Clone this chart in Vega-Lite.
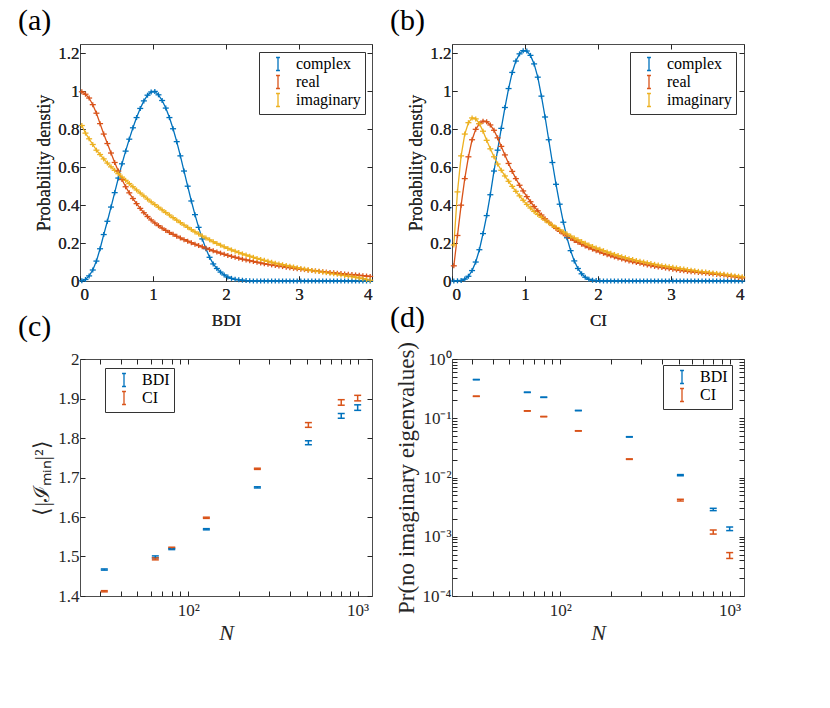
{
"$schema": "https://vega.github.io/schema/vega-lite/v6.json",
"background": "white",
"padding": {"left": 17, "top": 5, "right": 5, "bottom": 5},
"config": {
  "font": "Liberation Serif",
  "view": {"stroke": "#4d4d4d", "strokeWidth": 1},
  "style": {"guide-label": {"font": "Liberation Serif"}, "guide-title": {"font": "Liberation Serif"}, "group-title": {"font": "Liberation Serif"}},
  "axis": {"grid": false, "domain": false, "tickColor": "#262626", "tickSize": -5, "tickWidth": 1, "labelColor": "#262626", "labelFont": "Liberation Serif", "labelFontSize": 17, "titleFont": "Liberation Serif", "titleFontSize": 17, "titleFontWeight": "normal", "titleColor": "#262626", "labelPadding": 6, "titlePadding": 4},
  "legend": {"title": null, "orient": "none", "strokeColor": "#333333", "fillColor": "white", "padding": 4, "labelFont": "Liberation Serif", "labelFontSize": 16, "labelColor": "black", "symbolType": "M-0.3,-1H0.3M0,-1V1M-0.3,1H0.3", "symbolSize": 169, "symbolStrokeWidth": 1.3, "symbolFillColor": "transparent", "symbolOffset": 7, "rowPadding": -4, "labelOffset": 10, "cornerRadius": 0},
  "title": {"font": "Liberation Serif", "fontSize": 30, "fontWeight": "normal", "color": "black", "anchor": "start", "frame": "group", "dx": -62, "offset": 8}
},
"datasets": {
"a": [
{"x":0.025,"complex":0.001,"real":0.998,"imaginary":0.82},
{"x":0.075,"complex":0.008,"real":0.985,"imaginary":0.78},
{"x":0.125,"complex":0.027,"real":0.965,"imaginary":0.75},
{"x":0.175,"complex":0.058,"real":0.93,"imaginary":0.72},
{"x":0.225,"complex":0.105,"real":0.885,"imaginary":0.69},
{"x":0.275,"complex":0.17,"real":0.83,"imaginary":0.667},
{"x":0.325,"complex":0.245,"real":0.775,"imaginary":0.644},
{"x":0.375,"complex":0.315,"real":0.725,"imaginary":0.622},
{"x":0.425,"complex":0.39,"real":0.675,"imaginary":0.602},
{"x":0.475,"complex":0.466,"real":0.625,"imaginary":0.584},
{"x":0.525,"complex":0.543,"real":0.58,"imaginary":0.566},
{"x":0.575,"complex":0.618,"real":0.535,"imaginary":0.548},
{"x":0.625,"complex":0.685,"real":0.497,"imaginary":0.531},
{"x":0.675,"complex":0.748,"real":0.465,"imaginary":0.514},
{"x":0.725,"complex":0.808,"real":0.435,"imaginary":0.497},
{"x":0.775,"complex":0.862,"real":0.408,"imaginary":0.48},
{"x":0.825,"complex":0.91,"real":0.383,"imaginary":0.464},
{"x":0.875,"complex":0.95,"real":0.36,"imaginary":0.448},
{"x":0.925,"complex":0.98,"real":0.34,"imaginary":0.432},
{"x":0.975,"complex":0.997,"real":0.322,"imaginary":0.417},
{"x":1.025,"complex":1.0,"real":0.306,"imaginary":0.403},
{"x":1.075,"complex":0.982,"real":0.292,"imaginary":0.389},
{"x":1.125,"complex":0.952,"real":0.279,"imaginary":0.375},
{"x":1.175,"complex":0.912,"real":0.267,"imaginary":0.361},
{"x":1.225,"complex":0.862,"real":0.256,"imaginary":0.348},
{"x":1.275,"complex":0.803,"real":0.246,"imaginary":0.334},
{"x":1.325,"complex":0.735,"real":0.236,"imaginary":0.321},
{"x":1.375,"complex":0.66,"real":0.227,"imaginary":0.308},
{"x":1.425,"complex":0.58,"real":0.218,"imaginary":0.295},
{"x":1.475,"complex":0.5,"real":0.21,"imaginary":0.283},
{"x":1.525,"complex":0.422,"real":0.202,"imaginary":0.271},
{"x":1.575,"complex":0.35,"real":0.194,"imaginary":0.259},
{"x":1.625,"complex":0.283,"real":0.187,"imaginary":0.248},
{"x":1.675,"complex":0.222,"real":0.18,"imaginary":0.237},
{"x":1.725,"complex":0.17,"real":0.173,"imaginary":0.227},
{"x":1.775,"complex":0.125,"real":0.166,"imaginary":0.217},
{"x":1.825,"complex":0.09,"real":0.159,"imaginary":0.207},
{"x":1.875,"complex":0.066,"real":0.153,"imaginary":0.198},
{"x":1.925,"complex":0.047,"real":0.147,"imaginary":0.189},
{"x":1.975,"complex":0.032,"real":0.141,"imaginary":0.18},
{"x":2.025,"complex":0.021,"real":0.135,"imaginary":0.172},
{"x":2.075,"complex":0.014,"real":0.13,"imaginary":0.164},
{"x":2.125,"complex":0.009,"real":0.125,"imaginary":0.157},
{"x":2.175,"complex":0.006,"real":0.12,"imaginary":0.15},
{"x":2.225,"complex":0.004,"real":0.115,"imaginary":0.143},
{"x":2.275,"complex":0.002,"real":0.111,"imaginary":0.137},
{"x":2.325,"complex":0.001,"real":0.107,"imaginary":0.131},
{"x":2.375,"complex":0,"real":0.103,"imaginary":0.125},
{"x":2.425,"complex":0,"real":0.099,"imaginary":0.119},
{"x":2.475,"complex":0,"real":0.095,"imaginary":0.114},
{"x":2.525,"complex":0,"real":0.091,"imaginary":0.109},
{"x":2.575,"complex":0,"real":0.088,"imaginary":0.104},
{"x":2.625,"complex":0,"real":0.085,"imaginary":0.099},
{"x":2.675,"complex":0,"real":0.082,"imaginary":0.094},
{"x":2.725,"complex":0,"real":0.079,"imaginary":0.09},
{"x":2.775,"complex":0,"real":0.076,"imaginary":0.086},
{"x":2.825,"complex":0,"real":0.073,"imaginary":0.082},
{"x":2.875,"complex":0,"real":0.07,"imaginary":0.078},
{"x":2.925,"complex":0,"real":0.067,"imaginary":0.074},
{"x":2.975,"complex":0,"real":0.064,"imaginary":0.07},
{"x":3.025,"complex":0,"real":0.062,"imaginary":0.066},
{"x":3.075,"complex":0,"real":0.06,"imaginary":0.063},
{"x":3.125,"complex":0,"real":0.057,"imaginary":0.059},
{"x":3.175,"complex":0,"real":0.055,"imaginary":0.056},
{"x":3.225,"complex":0,"real":0.053,"imaginary":0.053},
{"x":3.275,"complex":0,"real":0.051,"imaginary":0.05},
{"x":3.325,"complex":0,"real":0.049,"imaginary":0.047},
{"x":3.375,"complex":0,"real":0.047,"imaginary":0.044},
{"x":3.425,"complex":0,"real":0.045,"imaginary":0.041},
{"x":3.475,"complex":0,"real":0.043,"imaginary":0.038},
{"x":3.525,"complex":0,"real":0.041,"imaginary":0.035},
{"x":3.575,"complex":0,"real":0.039,"imaginary":0.032},
{"x":3.625,"complex":0,"real":0.037,"imaginary":0.029},
{"x":3.675,"complex":0,"real":0.035,"imaginary":0.026},
{"x":3.725,"complex":0,"real":0.034,"imaginary":0.023},
{"x":3.775,"complex":0,"real":0.032,"imaginary":0.02},
{"x":3.825,"complex":0,"real":0.03,"imaginary":0.016},
{"x":3.875,"complex":0,"real":0.028,"imaginary":0.012},
{"x":3.925,"complex":0,"real":0.026,"imaginary":0.008},
{"x":3.975,"complex":0,"real":0.024,"imaginary":0.004}
],
"b": [
{"x":0.025,"complex":0,"real":0.08,"imaginary":0.19},
{"x":0.075,"complex":0.001,"real":0.24,"imaginary":0.47},
{"x":0.125,"complex":0.003,"real":0.4,"imaginary":0.66},
{"x":0.175,"complex":0.01,"real":0.54,"imaginary":0.775},
{"x":0.225,"complex":0.025,"real":0.655,"imaginary":0.835},
{"x":0.275,"complex":0.055,"real":0.745,"imaginary":0.86},
{"x":0.325,"complex":0.1,"real":0.8,"imaginary":0.855},
{"x":0.375,"complex":0.165,"real":0.83,"imaginary":0.83},
{"x":0.425,"complex":0.25,"real":0.843,"imaginary":0.79},
{"x":0.475,"complex":0.345,"real":0.84,"imaginary":0.742},
{"x":0.525,"complex":0.455,"real":0.823,"imaginary":0.697},
{"x":0.575,"complex":0.58,"real":0.795,"imaginary":0.655},
{"x":0.625,"complex":0.69,"real":0.755,"imaginary":0.617},
{"x":0.675,"complex":0.805,"real":0.71,"imaginary":0.584},
{"x":0.725,"complex":0.915,"real":0.665,"imaginary":0.554},
{"x":0.775,"complex":1.015,"real":0.62,"imaginary":0.526},
{"x":0.825,"complex":1.1,"real":0.578,"imaginary":0.499},
{"x":0.875,"complex":1.16,"real":0.54,"imaginary":0.473},
{"x":0.925,"complex":1.198,"real":0.505,"imaginary":0.449},
{"x":0.975,"complex":1.215,"real":0.475,"imaginary":0.426},
{"x":1.025,"complex":1.213,"real":0.445,"imaginary":0.404},
{"x":1.075,"complex":1.19,"real":0.418,"imaginary":0.385},
{"x":1.125,"complex":1.145,"real":0.393,"imaginary":0.367},
{"x":1.175,"complex":1.075,"real":0.37,"imaginary":0.351},
{"x":1.225,"complex":0.975,"real":0.348,"imaginary":0.336},
{"x":1.275,"complex":0.865,"real":0.328,"imaginary":0.321},
{"x":1.325,"complex":0.745,"real":0.31,"imaginary":0.307},
{"x":1.375,"complex":0.625,"real":0.293,"imaginary":0.294},
{"x":1.425,"complex":0.51,"real":0.277,"imaginary":0.282},
{"x":1.475,"complex":0.405,"real":0.262,"imaginary":0.27},
{"x":1.525,"complex":0.31,"real":0.249,"imaginary":0.259},
{"x":1.575,"complex":0.228,"real":0.237,"imaginary":0.248},
{"x":1.625,"complex":0.16,"real":0.225,"imaginary":0.237},
{"x":1.675,"complex":0.106,"real":0.214,"imaginary":0.227},
{"x":1.725,"complex":0.066,"real":0.204,"imaginary":0.217},
{"x":1.775,"complex":0.038,"real":0.194,"imaginary":0.208},
{"x":1.825,"complex":0.02,"real":0.185,"imaginary":0.199},
{"x":1.875,"complex":0.009,"real":0.176,"imaginary":0.19},
{"x":1.925,"complex":0.004,"real":0.168,"imaginary":0.182},
{"x":1.975,"complex":0.002,"real":0.16,"imaginary":0.174},
{"x":2.025,"complex":0.001,"real":0.153,"imaginary":0.167},
{"x":2.075,"complex":0,"real":0.146,"imaginary":0.16},
{"x":2.125,"complex":0,"real":0.139,"imaginary":0.153},
{"x":2.175,"complex":0,"real":0.133,"imaginary":0.146},
{"x":2.225,"complex":0,"real":0.127,"imaginary":0.14},
{"x":2.275,"complex":0,"real":0.121,"imaginary":0.134},
{"x":2.325,"complex":0,"real":0.116,"imaginary":0.128},
{"x":2.375,"complex":0,"real":0.111,"imaginary":0.123},
{"x":2.425,"complex":0,"real":0.106,"imaginary":0.118},
{"x":2.475,"complex":0,"real":0.101,"imaginary":0.113},
{"x":2.525,"complex":0,"real":0.097,"imaginary":0.108},
{"x":2.575,"complex":0,"real":0.093,"imaginary":0.104},
{"x":2.625,"complex":0,"real":0.089,"imaginary":0.1},
{"x":2.675,"complex":0,"real":0.085,"imaginary":0.096},
{"x":2.725,"complex":0,"real":0.081,"imaginary":0.092},
{"x":2.775,"complex":0,"real":0.077,"imaginary":0.088},
{"x":2.825,"complex":0,"real":0.074,"imaginary":0.084},
{"x":2.875,"complex":0,"real":0.071,"imaginary":0.081},
{"x":2.925,"complex":0,"real":0.068,"imaginary":0.078},
{"x":2.975,"complex":0,"real":0.065,"imaginary":0.075},
{"x":3.025,"complex":0,"real":0.062,"imaginary":0.072},
{"x":3.075,"complex":0,"real":0.059,"imaginary":0.069},
{"x":3.125,"complex":0,"real":0.056,"imaginary":0.066},
{"x":3.175,"complex":0,"real":0.054,"imaginary":0.063},
{"x":3.225,"complex":0,"real":0.051,"imaginary":0.06},
{"x":3.275,"complex":0,"real":0.049,"imaginary":0.057},
{"x":3.325,"complex":0,"real":0.047,"imaginary":0.054},
{"x":3.375,"complex":0,"real":0.045,"imaginary":0.051},
{"x":3.425,"complex":0,"real":0.043,"imaginary":0.049},
{"x":3.475,"complex":0,"real":0.041,"imaginary":0.047},
{"x":3.525,"complex":0,"real":0.039,"imaginary":0.045},
{"x":3.575,"complex":0,"real":0.037,"imaginary":0.042},
{"x":3.625,"complex":0,"real":0.035,"imaginary":0.04},
{"x":3.675,"complex":0,"real":0.033,"imaginary":0.037},
{"x":3.725,"complex":0,"real":0.031,"imaginary":0.035},
{"x":3.775,"complex":0,"real":0.027,"imaginary":0.032},
{"x":3.825,"complex":0,"real":0.025,"imaginary":0.03},
{"x":3.875,"complex":0,"real":0.022,"imaginary":0.027},
{"x":3.925,"complex":0,"real":0.019,"imaginary":0.025},
{"x":3.975,"complex":0,"real":0.016,"imaginary":0.022}
],
"c": [
{"N":32,"s":"BDI","v":1.467,"lo":1.4655,"hi":1.4685},
{"N":64,"s":"BDI","v":1.499,"lo":1.4965,"hi":1.5015},
{"N":80,"s":"BDI","v":1.519,"lo":1.5175,"hi":1.5205},
{"N":128,"s":"BDI","v":1.569,"lo":1.5675,"hi":1.5705},
{"N":256,"s":"BDI","v":1.675,"lo":1.6735,"hi":1.6765},
{"N":512,"s":"BDI","v":1.788,"lo":1.783,"hi":1.793},
{"N":800,"s":"BDI","v":1.856,"lo":1.85,"hi":1.862},
{"N":1000,"s":"BDI","v":1.877,"lo":1.87,"hi":1.884},
{"N":32,"s":"CI","v":1.412,"lo":1.4105,"hi":1.4135},
{"N":64,"s":"CI","v":1.494,"lo":1.4915,"hi":1.4965},
{"N":80,"s":"CI","v":1.522,"lo":1.5205,"hi":1.5235},
{"N":128,"s":"CI","v":1.598,"lo":1.5965,"hi":1.5995},
{"N":256,"s":"CI","v":1.722,"lo":1.7205,"hi":1.7235},
{"N":512,"s":"CI","v":1.833,"lo":1.827,"hi":1.839},
{"N":800,"s":"CI","v":1.89,"lo":1.883,"hi":1.897},
{"N":1000,"s":"CI","v":1.901,"lo":1.894,"hi":1.908}
],
"d": [
{"N":32,"s":"BDI","v":0.449,"lo":0.446,"hi":0.452},
{"N":64,"s":"BDI","v":0.274,"lo":0.272,"hi":0.276},
{"N":80,"s":"BDI","v":0.226,"lo":0.2245,"hi":0.2275},
{"N":128,"s":"BDI","v":0.135,"lo":0.134,"hi":0.136},
{"N":256,"s":"BDI","v":0.0485,"lo":0.0481,"hi":0.0489},
{"N":512,"s":"BDI","v":0.01094,"lo":0.0107,"hi":0.0112},
{"N":800,"s":"BDI","v":0.00289,"lo":0.00276,"hi":0.00302},
{"N":1000,"s":"BDI","v":0.001364,"lo":0.00127,"hi":0.00146},
{"N":32,"s":"CI","v":0.235,"lo":0.2335,"hi":0.2365},
{"N":64,"s":"CI","v":0.133,"lo":0.132,"hi":0.134},
{"N":80,"s":"CI","v":0.1067,"lo":0.106,"hi":0.1074},
{"N":128,"s":"CI","v":0.0612,"lo":0.0608,"hi":0.0616},
{"N":256,"s":"CI","v":0.0204,"lo":0.0202,"hi":0.0206},
{"N":512,"s":"CI","v":0.00415,"lo":0.00401,"hi":0.00429},
{"N":800,"s":"CI","v":0.0012,"lo":0.00111,"hi":0.0013},
{"N":1000,"s":"CI","v":0.000484,"lo":0.00043,"hi":0.00054}
]
},
"columns": 2,
"spacing": {"row": -27, "column": 15},
"resolve": {"scale": {"color": "independent"}, "legend": {"color": "independent"}},
"concat": [
{
  "width": 292, "height": 237,
  "title": {"text": "(a)", "font": "Liberation Serif"},
  "data": {"name": "a"},
  "transform": [{"fold": ["complex", "real", "imaginary"], "as": ["series", "y"]}],
  "encoding": {
    "x": {"field": "x", "type": "quantitative", "scale": {"domain": [0, 4], "nice": false}, "axis": {"orient": "bottom", "values": [0,1,2,3,4], "format": "d", "title": "BDI", "labelFont": "Liberation Serif", "titleFont": "Liberation Serif", "labelPadding": 10, "titlePadding": 10}},
    "y": {"field": "y", "type": "quantitative", "scale": {"domain": [0, 1.25], "nice": false, "zero": false}, "axis": {"orient": "left", "values": [0,0.2,0.4,0.6,0.8,1,1.2], "format": "~g", "title": "Probability denstiy", "titleFontSize": 18, "labelFont": "Liberation Serif", "titleFont": "Liberation Serif"}},
    "color": {"field": "series", "type": "nominal", "scale": {"domain": ["complex", "real", "imaginary"], "range": ["#0072BD", "#D95319", "#EDB120"]}, "legend": {"legendX": 179, "legendY": 8}}
  },
  "layer": [
    {"mark": {"type": "line", "strokeWidth": 1.3, "clip": true}},
    {"mark": {"type": "tick", "orient": "horizontal", "size": 6, "thickness": 1.3, "opacity": 1}},
    {"mark": {"type": "tick", "orient": "vertical", "size": 5, "thickness": 1.3, "opacity": 1},
     "encoding": {
       "x": {"field": "x", "type": "quantitative", "axis": {"orient": "top", "values": [0,1,2,3,4], "labels": false, "title": null}},
       "y": {"field": "y", "type": "quantitative", "axis": {"orient": "right", "values": [0,0.2,0.4,0.6,0.8,1,1.2], "labels": false, "title": null}}
     }}
  ],
  "resolve": {"axis": {"x": "independent", "y": "independent"}}
},
{
  "width": 292, "height": 237,
  "title": {"text": "(b)", "font": "Liberation Serif"},
  "data": {"name": "b"},
  "transform": [{"fold": ["complex", "real", "imaginary"], "as": ["series", "y"]}],
  "encoding": {
    "x": {"field": "x", "type": "quantitative", "scale": {"domain": [0, 4], "nice": false}, "axis": {"orient": "bottom", "values": [0,1,2,3,4], "format": "d", "title": "CI", "labelFont": "Liberation Serif", "titleFont": "Liberation Serif", "labelPadding": 10, "titlePadding": 10}},
    "y": {"field": "y", "type": "quantitative", "scale": {"domain": [0, 1.25], "nice": false, "zero": false}, "axis": {"orient": "left", "values": [0,0.2,0.4,0.6,0.8,1,1.2], "format": "~g", "title": "Probability denstiy", "titleFontSize": 18, "labelFont": "Liberation Serif", "titleFont": "Liberation Serif"}},
    "color": {"field": "series", "type": "nominal", "scale": {"domain": ["complex", "real", "imaginary"], "range": ["#0072BD", "#D95319", "#EDB120"]}, "legend": {"legendX": 178, "legendY": 8}}
  },
  "layer": [
    {"mark": {"type": "line", "strokeWidth": 1.3, "clip": true}},
    {"mark": {"type": "tick", "orient": "horizontal", "size": 6, "thickness": 1.3, "opacity": 1}},
    {"mark": {"type": "tick", "orient": "vertical", "size": 5, "thickness": 1.3, "opacity": 1},
     "encoding": {
       "x": {"field": "x", "type": "quantitative", "axis": {"orient": "top", "values": [0,1,2,3,4], "labels": false, "title": null}},
       "y": {"field": "y", "type": "quantitative", "axis": {"orient": "right", "values": [0,0.2,0.4,0.6,0.8,1,1.2], "labels": false, "title": null}}
     }}
  ],
  "resolve": {"axis": {"x": "independent", "y": "independent"}}
},
{
  "width": 292, "height": 237,
  "title": {"text": "(c)", "font": "Liberation Serif"},
  "data": {"name": "c"},
  "encoding": {
    "x": {"field": "N", "type": "quantitative", "scale": {"type": "log", "domain": [23, 1215], "nice": false}, "axis": {"orient": "bottom", "values": [30,40,50,60,70,80,90,100,200,300,400,500,600,700,800,900,1000], "labelExpr": "datum.value == 100 ? '10²' : datum.value == 1000 ? '10³' : ''", "title": "N", "titleFontStyle": "italic", "titleFontSize": 22, "labelFont": "Liberation Serif", "titleFont": "Liberation Serif", "labelPadding": 11}},
    "color": {"field": "s", "type": "nominal", "scale": {"domain": ["BDI", "CI"], "range": ["#0072BD", "#D95319"]}, "legend": {"legendX": 25, "legendY": 9}}
  },
  "layer": [
    {"mark": {"type": "errorbar", "ticks": {"size": 7, "thickness": 1.5, "opacity": 1}, "thickness": 1.5},
     "encoding": {
       "y": {"field": "lo", "type": "quantitative", "scale": {"domain": [1.4, 2], "nice": false, "zero": false}, "axis": {"orient": "left", "values": [1.4,1.5,1.6,1.7,1.8,1.9,2], "format": "~g", "title": "⟨|ℐₘᵢₙ|²⟩", "titleFontSize": 22, "labelFont": "Liberation Serif", "titleFont": "Liberation Serif"}},
       "y2": {"field": "hi"}
     }},
    {"mark": {"type": "point", "opacity": 0, "size": 1},
     "encoding": {
       "x": {"field": "N", "type": "quantitative", "axis": {"orient": "top", "values": [30,40,50,60,70,80,90,100,200,300,400,500,600,700,800,900,1000], "labels": false, "title": null}},
       "y": {"field": "v", "type": "quantitative", "axis": {"orient": "right", "values": [1.4,1.5,1.6,1.7,1.8,1.9,2], "labels": false, "title": null}}
     }}
  ],
  "resolve": {"axis": {"x": "independent", "y": "independent"}}
},
{
  "width": 292, "height": 237,
  "title": {"text": "(d)", "font": "Liberation Serif"},
  "data": {"name": "d"},
  "encoding": {
    "x": {"field": "N", "type": "quantitative", "scale": {"type": "log", "domain": [23, 1215], "nice": false}, "axis": {"orient": "bottom", "values": [30,40,50,60,70,80,90,100,200,300,400,500,600,700,800,900,1000], "labelExpr": "datum.value == 100 ? '10²' : datum.value == 1000 ? '10³' : ''", "title": "N", "titleFontStyle": "italic", "titleFontSize": 22, "labelFont": "Liberation Serif", "titleFont": "Liberation Serif", "labelPadding": 11}},
    "color": {"field": "s", "type": "nominal", "scale": {"domain": ["BDI", "CI"], "range": ["#0072BD", "#D95319"]}, "legend": {"legendX": 211, "legendY": 6}}
  },
  "layer": [
    {"mark": {"type": "errorbar", "ticks": {"size": 7, "thickness": 1.5, "opacity": 1}, "thickness": 1.5},
     "encoding": {
       "y": {"field": "lo", "type": "quantitative", "scale": {"type": "log", "domain": [0.0001, 1], "nice": false}, "axis": {"orient": "left", "values": [0.0001,0.0002,0.0003,0.0004,0.0005,0.0006,0.0007,0.0008,0.0009,0.001,0.002,0.003,0.004,0.005,0.006,0.007,0.008,0.009,0.01,0.02,0.03,0.04,0.05,0.06,0.07,0.08,0.09,0.1,0.2,0.3,0.4,0.5,0.6,0.7,0.8,0.9,1], "labelExpr": "datum.value == 1 ? '10⁰' : datum.value == 0.1 ? '10⁻¹' : datum.value == 0.01 ? '10⁻²' : datum.value == 0.001 ? '10⁻³' : datum.value == 0.0001 ? '10⁻⁴' : ''", "title": "Pr(no imaginary eigenvalues)", "titleFontSize": 23, "labelFont": "Liberation Serif", "titleFont": "Liberation Serif"}},
       "y2": {"field": "hi"}
     }},
    {"mark": {"type": "point", "opacity": 0, "size": 1},
     "encoding": {
       "x": {"field": "N", "type": "quantitative", "axis": {"orient": "top", "values": [30,40,50,60,70,80,90,100,200,300,400,500,600,700,800,900,1000], "labels": false, "title": null}},
       "y": {"field": "v", "type": "quantitative", "axis": {"orient": "right", "values": [0.0001,0.0002,0.0003,0.0004,0.0005,0.0006,0.0007,0.0008,0.0009,0.001,0.002,0.003,0.004,0.005,0.006,0.007,0.008,0.009,0.01,0.02,0.03,0.04,0.05,0.06,0.07,0.08,0.09,0.1,0.2,0.3,0.4,0.5,0.6,0.7,0.8,0.9,1], "labels": false, "title": null}}
     }}
  ],
  "resolve": {"axis": {"x": "independent", "y": "independent"}}
}
]
}
